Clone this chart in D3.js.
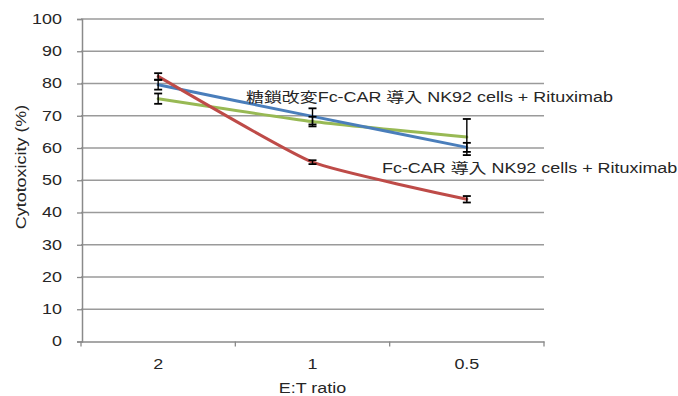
<!DOCTYPE html>
<html>
<head>
<meta charset="utf-8">
<script src="https://cdn.jsdelivr.net/npm/d3@7"></script>
<style>
  body { margin: 0; background: #fff; }
  svg { display: block; }
  text { font-family: "Liberation Sans", Arial, "Noto Sans CJK JP", sans-serif; fill: #262626; }
</style>
</head>
<body>
<script>
// data
const categories = ["2", "1", "0.5"]
const yTicks = [0, 10, 20, 30, 40, 50, 60, 70, 80, 90, 100]
const redValues = [82.2, 55.6, 44.1]
const redErrors = [1.0, 0.6, 1.0]
const blueValues = [79.6, 69.8, 60.2]
const blueErrors = [1.5, 2.5, 1.4]
const greenValues = [75.3, 68.2, 63.4]
const greenErrors = [1.6, 1.5, 5.6]
const labelTop = "糖鎖改変Fc-CAR 導入 NK92 cells + Rituximab"
const labelBottom = "Fc-CAR 導入 NK92 cells + Rituximab"

const series = [
  {name: "green", values: greenValues, errors: greenErrors, color: "#98B954"},
  {name: "blue", values: blueValues, errors: blueErrors, color: "#4A7EBB"},
  {name: "red", values: redValues, errors: redErrors, color: "#BE4B48"}
]

const W = 678, H = 396
const stretch = 1.28 // text in the picture is drawn wide

const svg = d3.select("body").append("svg").attr("width", W).attr("height", H)

const x = d3.scaleBand().domain(categories).range([81, 544])
const y = d3.scaleLinear().domain([0, 100]).range([341.5, 19])
const cx = function(i){ return x(categories[i]) + x.bandwidth() / 2 }

function widen(sel){
  sel.each(function(){
    const l = this.getComputedTextLength()
    d3.select(this).attr("textLength", l * stretch).attr("lengthAdjust", "spacingAndGlyphs")
  })
}

// gridlines
svg.append("g")
   .selectAll("line")
   .data(yTicks.slice(1))
   .enter().append("line")
           .attr("x1", 81).attr("x2", 544)
           .attr("y1", function(d){ return y(d) }).attr("y2", function(d){ return y(d) })
           .attr("stroke", "#9a9a9a").attr("stroke-width", 1.3)

// y axis
const yAxis = svg.append("g")
                 .attr("transform", "translate(82,0)")
                 .call(d3.axisLeft(y).tickValues(yTicks).tickSize(5).tickPadding(14))
yAxis.select(".domain").attr("stroke", "#8a8a8a").attr("stroke-width", 1.5)
yAxis.selectAll(".tick line").attr("stroke", "#8a8a8a").attr("stroke-width", 1.3)
yAxis.selectAll(".tick text")
     .attr("font-size", 14).attr("font-family", null).attr("fill", "#1f2a44")
     .call(widen)
     .attr("x", -20)

// x axis
const xAxis = svg.append("g")
                 .attr("transform", `translate(0,${y(0)})`)
                 .call(d3.axisBottom(x).tickSize(0).tickPadding(18))
xAxis.select(".domain").attr("stroke", "#8a8a8a").attr("stroke-width", 1.5)
xAxis.selectAll(".tick text")
     .attr("font-size", 14).attr("font-family", null).attr("fill", "#262626")
     .call(widen)
// tick marks sit between the categories
xAxis.selectAll(".edge")
     .data(d3.range(categories.length + 1))
     .enter().append("line")
             .attr("x1", function(d){ return 81 + d * x.bandwidth() })
             .attr("x2", function(d){ return 81 + d * x.bandwidth() })
             .attr("y1", 0).attr("y2", 5)
             .attr("stroke", "#8a8a8a").attr("stroke-width", 1.3)

// axis titles
svg.append("text")
   .attr("x", (81 + 544) / 2).attr("y", 393)
   .attr("text-anchor", "middle").attr("font-size", 14)
   .text("E:T ratio")
   .call(widen)

svg.append("text")
   .attr("transform", "translate(26,167) rotate(-90)")
   .attr("text-anchor", "middle").attr("font-size", 14)
   .text("Cytotoxicity (%)")
   .call(widen)

// lines
const line = d3.line()
               .x(function(d, i){ return cx(i) })
               .y(function(d){ return y(d) })
               .curve(d3.curveCardinal.tension(0.55))

svg.append("g")
   .selectAll("path")
   .data(series)
   .enter().append("path")
           .attr("d", function(s){ return line(s.values) })
           .attr("fill", "none")
           .attr("stroke", function(s){ return s.color })
           .attr("stroke-width", 3)
           .attr("stroke-linecap", "round")

// error bars
const bars = []
series.forEach(function(s){
  s.values.forEach(function(v, i){ bars.push({i: i, lo: v - s.errors[i], hi: v + s.errors[i]}) })
})
const eb = svg.append("g").attr("stroke", "#000").attr("stroke-width", 1.4)
eb.selectAll(".stem")
  .data(bars)
  .enter().append("line")
          .attr("x1", function(d){ return cx(d.i) }).attr("x2", function(d){ return cx(d.i) })
          .attr("y1", function(d){ return y(d.lo) }).attr("y2", function(d){ return y(d.hi) })
;["lo", "hi"].forEach(function(k){
  eb.selectAll(".cap-" + k)
    .data(bars)
    .enter().append("line")
            .attr("x1", function(d){ return cx(d.i) - 4 }).attr("x2", function(d){ return cx(d.i) + 4 })
            .attr("y1", function(d){ return y(d[k]) }).attr("y2", function(d){ return y(d[k]) })
            .attr("stroke-width", 1.8)
})

// series labels
svg.append("text")
   .attr("x", 246).attr("y", 102)
   .attr("font-size", 14)
   .text(labelTop)
   .call(widen)

svg.append("text")
   .attr("x", 382).attr("y", 173)
   .attr("font-size", 14)
   .text(labelBottom)
   .call(widen)
</script>
</body>
</html>
